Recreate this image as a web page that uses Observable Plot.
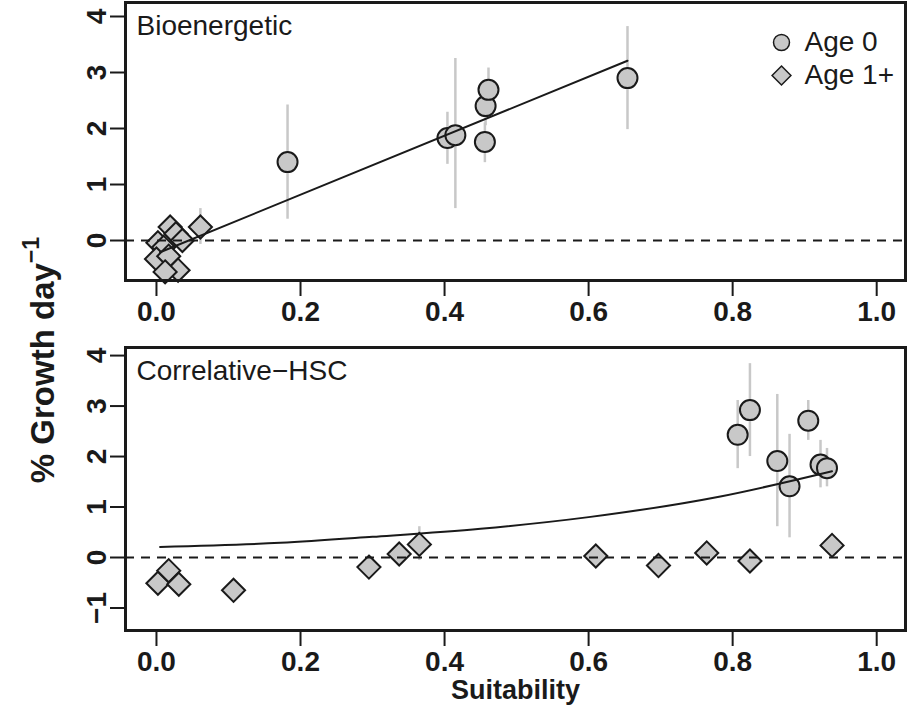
<!DOCTYPE html>
<html><head><meta charset="utf-8">
<script src="https://cdn.jsdelivr.net/npm/d3@7"></script>
<script src="https://cdn.jsdelivr.net/npm/@observablehq/plot@0.6"></script>
<style>
body{margin:0;background:#fff;font-family:"Liberation Sans",Arial,sans-serif;color:#1a1a1a}
#wrap{position:relative;width:909px;height:710px;overflow:hidden;background:#fff}
#top{position:absolute;left:0;top:0}
#bot{position:absolute;left:0;top:340px}
#ylab{position:absolute;left:41px;top:360px;transform:translate(-50%,-50%) rotate(-90deg);font-weight:bold;font-size:33px;white-space:nowrap;line-height:1}
#ylab sup{font-size:0.7em;position:relative;top:-0.15em}
</style></head><body>
<div id="wrap"><div id="top"></div><div id="bot"></div><div id="ylab">% Growth day<sup>−1</sup></div></div>
<script>
// ---- tick labels ----
const xTicks = [0, 0.2, 0.4, 0.6, 0.8, 1.0];
const yTicksTop = [0, 1, 2, 3, 4];
const yTicksBot = [-1, 0, 1, 2, 3, 4];
const panelLabels = ["Bioenergetic", "Correlative−HSC"];
const legendLabels = ["Age 0", "Age 1+"];

// ---- Bioenergetic panel ----
const bioAge0X  = [0.182, 0.404, 0.415, 0.456, 0.457, 0.461, 0.654];
const bioAge0Y  = [1.40, 1.83, 1.88, 1.76, 2.40, 2.69, 2.90];
const bioAge0Lo = [0.38, 1.36, 0.57, 1.39, 2.05, 2.35, 1.98];
const bioAge0Hi = [2.42, 2.29, 3.25, 2.10, 2.70, 3.08, 3.82];

const bioAge1X  = [0.002, 0.010, 0.019, 0.027, 0.036, 0.061, 0.000, 0.017, 0.030, 0.012];
const bioAge1Y  = [-0.04, -0.12, 0.24, 0.12, 0.00, 0.24, -0.33, -0.28, -0.53, -0.56];
const bioAge1Lo = [-0.16, -0.24, 0.12, 0.00, -0.12, -0.07, -0.45, -0.40, -0.65, -0.68];
const bioAge1Hi = [0.08, 0.00, 0.36, 0.24, 0.12, 0.57, -0.21, -0.16, -0.41, -0.44];

const bioFitX = [0.005, 0.654];
const bioFitY = [-0.21, 3.21];

// ---- Correlative-HSC panel ----
const hscAge0X  = [0.807, 0.824, 0.862, 0.879, 0.905, 0.922, 0.931];
const hscAge0Y  = [2.43, 2.92, 1.91, 1.41, 2.71, 1.84, 1.77];
const hscAge0Lo = [1.76, 2.00, 0.61, 0.39, 2.32, 1.38, 1.40];
const hscAge0Hi = [3.11, 3.84, 3.23, 2.44, 3.11, 2.32, 2.16];

const hscAge1X  = [0.002, 0.017, 0.031, 0.107, 0.295, 0.337, 0.365, 0.610, 0.697, 0.764, 0.824, 0.938];
const hscAge1Y  = [-0.51, -0.26, -0.53, -0.65, -0.19, 0.07, 0.26, 0.03, -0.16, 0.09, -0.07, 0.24];
const hscAge1Lo = [-0.61, -0.36, -0.63, -0.75, -0.29, -0.03, -0.06, -0.07, -0.26, -0.01, -0.17, 0.14];
const hscAge1Hi = [-0.41, -0.16, -0.43, -0.55, -0.09, 0.17, 0.61, 0.13, -0.06, 0.19, 0.03, 0.34];

const hscFitX = [0.005, 0.172, 0.30, 0.45, 0.60, 0.783, 0.938];
const hscFitY = [0.21, 0.29, 0.41, 0.57, 0.80, 1.21, 1.71];

// ---- styles ----
const FONT = "Liberation Sans, Arial, Helvetica, sans-serif";
const INK = "#1a1a1a";
const FILL = "#c8c8c8";
const BAR = "#c8c8c8";
const intFmt = d => (d < 0 ? "−" : "") + Math.abs(d);

const rows = (xs, ys, lo, hi) => xs.map((x, i) => ({x, y: ys[i], lo: lo ? lo[i] : null, hi: hi ? hi[i] : null}));

function panel({label, yDomain, yTicks, height, marginTop, marginBottom, a0, a1, fit, legend, xlabel}) {
  const marks = [
    Plot.ruleX(a1, {x: "x", y1: "lo", y2: "hi", stroke: BAR, strokeWidth: 2.5}),
    Plot.ruleX(a0, {x: "x", y1: "lo", y2: "hi", stroke: BAR, strokeWidth: 2.5}),
    Plot.dot(a1, {x: "x", y: "y", symbol: "diamond2", r: 10.4, fill: FILL, stroke: INK, strokeWidth: 2}),
    Plot.dot(a0, {x: "x", y: "y", symbol: "circle", r: 10, fill: FILL, stroke: INK, strokeWidth: 2}),
    Plot.line(fit, {x: "x", y: "y", curve: "monotone-x", stroke: INK, strokeWidth: 2}),
    Plot.ruleY([0], {stroke: INK, strokeWidth: 2, strokeDasharray: "9,7"}),
    Plot.frame({stroke: INK, strokeWidth: 3}),
    Plot.axisX({ticks: xTicks, tickFormat: d3.format(".1f"), tickSize: 16, tickPadding: 5, fontSize: 28, fontWeight: "bold", strokeWidth: 2, label: null}),
    Plot.axisY({ticks: yTicks, tickFormat: intFmt, tickSize: 15, tickPadding: 5, tickRotate: -90, fontSize: 28, fontWeight: "bold", strokeWidth: 2, label: null}),
    Plot.text([label], {frameAnchor: "top-left", dx: 11, dy: 13, lineAnchor: "top", textAnchor: "start", fontSize: 28, fill: INK})
  ];
  if (legend) {
    marks.push(
      Plot.dot([legendLabels[0]], {frameAnchor: "top-right", dx: -124, dy: 40, r: 8, symbol: "circle", fill: FILL, stroke: INK, strokeWidth: 1.5}),
      Plot.dot([legendLabels[1]], {frameAnchor: "top-right", dx: -124, dy: 73, r: 8.5, symbol: "diamond2", fill: FILL, stroke: INK, strokeWidth: 1.5}),
      Plot.text([legendLabels[0]], {frameAnchor: "top-right", dx: -101, dy: 40, textAnchor: "start", lineAnchor: "middle", fontSize: 28, fill: INK}),
      Plot.text([legendLabels[1]], {frameAnchor: "top-right", dx: -101, dy: 73, textAnchor: "start", lineAnchor: "middle", fontSize: 28, fill: INK})
    );
  }
  if (xlabel) {
    marks.push(Plot.text([xlabel], {frameAnchor: "bottom", dy: 60, lineAnchor: "middle", fontSize: 27, fontWeight: "bold", fill: INK}));
  }
  return Plot.plot({
    width: 909, height, marginLeft: 125, marginRight: 4, marginTop, marginBottom,
    x: {domain: [-0.043, 1.040]},
    y: {domain: yDomain},
    style: {fontFamily: FONT, background: "white", color: INK, overflow: "visible"},
    marks
  });
}

document.getElementById("top").append(panel({
  label: panelLabels[0], yDomain: [-0.714, 4.25], yTicks: yTicksTop,
  height: 340, marginTop: 2, marginBottom: 60,
  a0: rows(bioAge0X, bioAge0Y, bioAge0Lo, bioAge0Hi),
  a1: rows(bioAge1X, bioAge1Y, bioAge1Lo, bioAge1Hi),
  fit: rows(bioFitX, bioFitY), legend: true
}));
document.getElementById("bot").append(panel({
  label: panelLabels[1], yDomain: [-1.446, 4.16], yTicks: yTicksBot,
  height: 370, marginTop: 7, marginBottom: 80,
  a0: rows(hscAge0X, hscAge0Y, hscAge0Lo, hscAge0Hi),
  a1: rows(hscAge1X, hscAge1Y, hscAge1Lo, hscAge1Hi),
  fit: rows(hscFitX, hscFitY), legend: false, xlabel: "Suitability"
}));
</script>
</body></html>
